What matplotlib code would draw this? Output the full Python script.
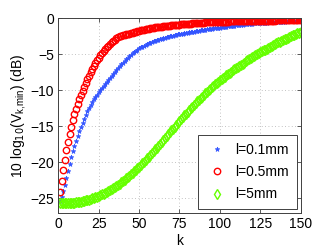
import matplotlib
matplotlib.use("Agg")
import matplotlib.pyplot as plt

plt.rcParams['font.family'] = ['Liberation Sans', 'DejaVu Sans']

k = list(range(1, 151))

# l = 0.1 mm
v_01 = [-25.4, -24.8, -24.0, -23.2, -22.2, -21.2, -20.2, -19.3, -18.5, -17.7,
        -17.0, -16.3, -15.65, -15.05, -14.5, -13.95, -13.45, -12.95, -12.5, -12.05,
        -11.65, -11.25, -10.95, -10.6, -10.3, -10.0, -9.7, -9.45, -9.2, -8.9,
        -8.6, -8.3, -8.0, -7.7, -7.42, -7.15, -6.9, -6.65, -6.4, -6.15,
        -5.9, -5.67, -5.45, -5.24, -5.04, -4.85, -4.67, -4.5, -4.34, -4.19,
        -4.05, -3.92, -3.8, -3.68, -3.57, -3.47, -3.37, -3.28, -3.19, -3.11,
        -3.03, -2.96, -2.89, -2.82, -2.75, -2.69, -2.63, -2.57, -2.51, -2.45,
        -2.4, -2.35, -2.3, -2.25, -2.2, -2.16, -2.12, -2.08, -2.04, -2.0,
        -1.96, -1.92, -1.88, -1.84, -1.8, -1.76, -1.72, -1.68, -1.64, -1.6,
        -1.56, -1.52, -1.49, -1.46, -1.43, -1.4, -1.37, -1.34, -1.31, -1.28,
        -1.25, -1.22, -1.19, -1.16, -1.13, -1.1, -1.07, -1.04, -1.01, -0.98,
        -0.95, -0.93, -0.9, -0.88, -0.85, -0.83, -0.8, -0.78, -0.76, -0.74,
        -0.72, -0.7, -0.68, -0.67, -0.65, -0.63, -0.62, -0.6, -0.59, -0.57,
        -0.56, -0.54, -0.53, -0.52, -0.5, -0.49, -0.48, -0.47, -0.46, -0.45,
        -0.44, -0.43, -0.42, -0.41, -0.4, -0.39, -0.39, -0.38, -0.37, -0.36]

# l = 0.5 mm
v_05 = [-24.2, -22.6, -21.15, -19.7, -18.35, -17.2, -16.1, -15.1, -14.15, -13.3,
        -12.6, -11.9, -11.25, -10.65, -10.1, -9.55, -9.0, -8.5, -8.0, -7.5,
        -7.05, -6.6, -6.2, -5.8, -5.45, -5.15, -4.85, -4.55, -4.3, -4.05,
        -3.8, -3.57, -3.35, -3.15, -2.95, -2.78, -2.63, -2.5, -2.4, -2.33,
        -2.28, -2.24, -2.2, -2.15, -2.1, -2.04, -1.97, -1.9, -1.83, -1.76,
        -1.69, -1.63, -1.57, -1.52, -1.47, -1.42, -1.38, -1.34, -1.3, -1.27,
        -1.24, -1.21, -1.18, -1.15, -1.12, -1.09, -1.07, -1.04, -1.02, -0.99,
        -0.97, -0.95, -0.92, -0.9, -0.88, -0.86, -0.84, -0.82, -0.8, -0.78,
        -0.76, -0.74, -0.72, -0.7, -0.68, -0.66, -0.64, -0.62, -0.61, -0.59,
        -0.57, -0.56, -0.55, -0.54, -0.53, -0.52, -0.51, -0.5, -0.49, -0.48,
        -0.474, -0.468, -0.462, -0.456, -0.45, -0.444, -0.438, -0.432, -0.426, -0.42,
        -0.415, -0.41, -0.405, -0.4, -0.395, -0.39, -0.385, -0.38, -0.375, -0.37,
        -0.365, -0.36, -0.356, -0.352, -0.347, -0.343, -0.338, -0.334, -0.33, -0.325,
        -0.32, -0.316, -0.312, -0.307, -0.303, -0.299, -0.294, -0.29, -0.286, -0.282,
        -0.278, -0.274, -0.27, -0.266, -0.262, -0.258, -0.254, -0.25, -0.246, -0.242]

# l = 5 mm
v_5 = [-25.72, -25.72, -25.71, -25.71, -25.7, -25.69, -25.68, -25.66, -25.64, -25.62,
       -25.59, -25.56, -25.52, -25.48, -25.43, -25.38, -25.32, -25.26, -25.19, -25.12,
       -25.04, -24.96, -24.87, -24.78, -24.68, -24.58, -24.47, -24.36, -24.24, -24.12,
       -23.99, -23.86, -23.72, -23.58, -23.43, -23.28, -23.12, -22.96, -22.79, -22.62,
       -22.44, -22.26, -22.07, -21.88, -21.68, -21.48, -21.27, -21.06, -20.84, -20.62,
       -20.4, -20.17, -19.94, -19.7, -19.46, -19.22, -18.97, -18.72, -18.47, -18.22,
       -17.96, -17.7, -17.44, -17.18, -16.92, -16.65, -16.39, -16.12, -15.86, -15.59,
       -15.33, -15.06, -14.8, -14.54, -14.28, -14.02, -13.76, -13.5, -13.25, -13.0,
       -12.75, -12.5, -12.26, -12.02, -11.78, -11.55, -11.32, -11.09, -10.87, -10.65,
       -10.43, -10.22, -10.01, -9.8, -9.6, -9.4, -9.2, -9.01, -8.82, -8.63,
       -8.45, -8.27, -8.09, -7.91, -7.74, -7.57, -7.4, -7.24, -7.08, -6.92,
       -6.76, -6.6, -6.45, -6.3, -6.15, -6.0, -5.85, -5.7, -5.56, -5.42,
       -5.28, -5.14, -5.0, -4.86, -4.73, -4.6, -4.47, -4.34, -4.21, -4.08,
       -3.96, -3.84, -3.72, -3.6, -3.48, -3.36, -3.25, -3.14, -3.03, -2.92,
       -2.81, -2.7, -2.59, -2.49, -2.39, -2.29, -2.19, -2.09, -1.99, -1.89]

x_ticks = [0, 25, 50, 75, 100, 125, 150]
y_ticks = [-25, -20, -15, -10, -5, 0]

fig = plt.figure(figsize=(3.32, 2.5), dpi=100)
ax = fig.add_axes([0.1756, 0.1468, 0.7301, 0.78])

ax.plot(k, v_01, linestyle='none', marker='*', markersize=3.5, color='#3355ff',
        markeredgewidth=0.5, label='l=0.1mm')
ax.plot(k, v_05, linestyle='none', marker='o', markersize=4.6, color='#ff0000',
        markerfacecolor='none', markeredgewidth=1.0, label='l=0.5mm')
ax.plot(k, v_5, linestyle='none', marker='d', markersize=5.5, color='#66ff00',
        markerfacecolor='none', markeredgewidth=1.0, label='l=5mm')

ax.set_xlim(0, 150)
ax.set_ylim(-27.1, 0)
ax.set_xticks(x_ticks)
ax.set_yticks(y_ticks)
ax.tick_params(direction='in', length=3, width=0.6, top=True, right=True,
               labelsize=10, colors='#404040', labelcolor='black', pad=3)
ax.grid(True, linestyle=(0, (1, 3)), color='#b0b0b0', linewidth=0.6)
for s in ax.spines.values():
    s.set_color('#404040')
    s.set_linewidth(0.7)

ax.set_xlabel('k', fontsize=10, labelpad=2)
ax.set_ylabel(r'10 log$_{10}$(V$_{\mathregular{k{,}min}}$) (dB)', fontsize=10, labelpad=2)

leg = ax.legend(loc='lower right', fontsize=10, numpoints=1, fancybox=False,
                framealpha=1, edgecolor='#404040', handlelength=1.5,
                handletextpad=0.6, labelspacing=0.6, borderpad=0.55,
                borderaxespad=0.3)
leg.get_frame().set_linewidth(0.7)

fig.savefig('out.png', dpi=100)
